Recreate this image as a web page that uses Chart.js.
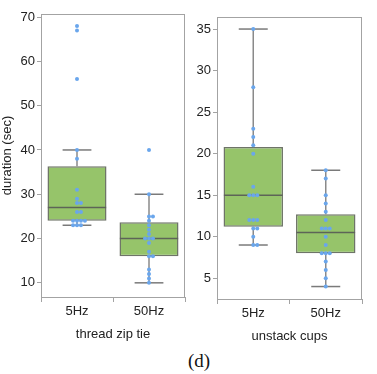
<!DOCTYPE html>
<html><head><meta charset="utf-8">
<script src="https://cdn.jsdelivr.net/npm/chart.js@4"></script>
<style>
body{margin:0;width:377px;height:374px;background:#fff;position:relative;overflow:hidden;font-family:"Liberation Sans",Arial,sans-serif}
canvas{position:absolute;top:0}
#c1{left:0}
#c2{left:190px}
#cap{position:absolute;left:149px;width:100px;top:351px;text-align:center;font-family:"Liberation Serif","Times New Roman",serif;font-size:19px;line-height:20px;color:#111}
</style></head>
<body>
<canvas id="c1" width="190" height="345"></canvas>
<canvas id="c2" width="187" height="347"></canvas>
<div id="cap">(d)</div>
<script>
// ---- data ----
const categories = ['5Hz', '50Hz'];
const zipTie5Hz  = [68, 67, 56, 40, 38, 31, 29, 28, 28, 26, 26, 24, 24, 24, 24, 23, 23, 23];
const zipTie50Hz = [40, 30, 25, 25, 24, 23, 22, 21, 20, 20, 20, 19, 17, 16, 16, 13, 12, 11, 10];
const cups5Hz    = [35, 28, 23, 22, 21, 20, 16, 15, 15, 15, 12, 12, 12, 11, 11, 10, 9, 9];
const cups50Hz   = [18, 17, 15, 14, 13, 12, 11, 11, 11, 10, 9, 8, 8, 8, 7, 6, 5, 4];
// box statistics (whisker low, Q1, median, Q3, whisker high)
const zipTieLow    = [23, 10];
const zipTieQ1     = [24, 16];
const zipTieMedian = [27, 20];
const zipTieQ3     = [36.3, 23.7];
const zipTieHigh   = [40, 30];
const cupsLow    = [9, 4];
const cupsQ1     = [11.2, 8];
const cupsMedian = [15, 10.5];
const cupsQ3     = [20.8, 12.7];
const cupsHigh   = [35, 18];
const zipTieTicks = [10, 20, 30, 40, 50, 60, 70];
const cupsTicks   = [5, 10, 15, 20, 25, 30, 35];

// ---- styling ----
const GREEN = '#96c46a', BOXLINE = '#6e7468', WHISK = '#8a8a8a', MED = '#5d6457', DOT = '#6aa6ec', FRAME = '#a3a3a3', TXT = '#222';
const FONT = {family: '"Liberation Sans", Arial, sans-serif', size: 13};

function swarm(values, yThr, step) {
  const placed = [];
  return values.map(v => {
    for (let k = 0; k < 20; k++) {
      const off = (k === 0) ? 0 : (k % 2 ? 1 : -1) * Math.ceil(k / 2) * step;
      if (!placed.some(p => Math.abs(p.y - v) < yThr && Math.abs(p.x - off) < step * 0.99)) {
        placed.push({x: off, y: v});
        return off;
      }
    }
    return 0;
  });
}

const framePlugin = {
  id: 'frame',
  beforeDatasetsDraw(chart) {
    const a = chart.chartArea, c = chart.ctx;
    c.save(); c.strokeStyle = FRAME; c.lineWidth = 1;
    c.strokeRect(Math.round(a.left) + 0.5, Math.round(a.top) + 0.5, Math.round(a.right - a.left) - 1, Math.round(a.bottom - a.top));
    c.restore();
  }
};

function seg(x1, y1, x2, y2, color, width, order) {
  return {type: 'scatter', xAxisID: 'xj', data: [{x: x1, y: y1}, {x: x2, y: y2}], showLine: true,
    borderColor: color, borderWidth: width, pointRadius: 0, order: order};
}

function makeChart(id, series, lo, q1, med, q3, hi, ticks, yMin, yMax, xTitle, yTitle, pad, yW, xH, yThr) {
  const datasets = [];
  datasets.push({type: 'bar', xAxisID: 'x', data: q1.map((v, i) => [v, q3[i]]), backgroundColor: GREEN,
    borderColor: BOXLINE, borderWidth: 1.5, borderSkipped: false, grouped: false,
    barPercentage: 0.82, categoryPercentage: 1, order: 2});
  categories.forEach((c, i) => {
    datasets.push(seg(i, q3[i], i, hi[i], WHISK, 1.5, 3));
    datasets.push(seg(i, lo[i], i, q1[i], WHISK, 1.5, 3));
    datasets.push(seg(i - 0.2, hi[i], i + 0.2, hi[i], '#7a7a7a', 1.5, 3));
    datasets.push(seg(i - 0.2, lo[i], i + 0.2, lo[i], '#7a7a7a', 1.5, 3));
    datasets.push(seg(i - 0.405, med[i], i + 0.405, med[i], MED, 1.5, 1));
  });
  series.forEach((vals, i) => {
    const offs = swarm(vals, yThr, 0.055);
    datasets.push({type: 'scatter', xAxisID: 'xj', data: vals.map((v, k) => ({x: i + offs[k], y: v})),
      pointRadius: 2, backgroundColor: DOT, borderWidth: 0, order: 0});
  });
  return new Chart(document.getElementById(id), {
    type: 'bar',
    data: {labels: categories, datasets},
    options: {
      responsive: false, animation: false, devicePixelRatio: 1,
      layout: {padding: pad},
      plugins: {legend: {display: false}, tooltip: {enabled: false}},
      scales: {
        x: {type: 'category', offset: true, position: 'bottom',
          grid: {drawOnChartArea: false, drawTicks: true, tickLength: 5, color: FRAME},
          border: {display: false},
          ticks: {color: TXT, font: FONT, padding: 2},
          title: {display: true, text: xTitle, color: TXT, font: FONT, padding: {top: 4, bottom: 3}},
          afterFit: s => { s.height = xH; }},
        xj: {type: 'linear', display: false, offset: false, grid: {offset: false}, min: -0.5, max: 1.5},
        y: {type: 'linear', min: yMin, max: yMax, beginAtZero: false,
          afterBuildTicks: s => { s.ticks = ticks.map(v => ({value: v})); },
          grid: {drawOnChartArea: false, drawTicks: true, tickLength: 4, color: FRAME},
          border: {display: false},
          ticks: {color: TXT, font: FONT, padding: 2},
          title: {display: !!yTitle, text: yTitle, color: TXT, font: FONT, padding: {top: 0, bottom: 0}},
          afterFit: s => { s.width = yW; }}
      }
    },
    plugins: [framePlugin]
  });
}

makeChart('c1', [zipTie5Hz, zipTie50Hz], zipTieLow, zipTieQ1, zipTieMedian, zipTieQ3, zipTieHigh,
  zipTieTicks, 6.8, 70.7, 'thread zip tie', 'duration (sec)', {top: 14, right: 5, left: 0, bottom: 0}, 41, 48, 0.9);
makeChart('c2', [cups5Hz, cups50Hz], cupsLow, cupsQ1, cupsMedian, cupsQ3, cupsHigh,
  cupsTicks, 2.5, 36.45, 'unstack cups', '', {top: 17, right: 15, left: 0, bottom: 0}, 27, 48, 0.5);
</script>
</body></html>
